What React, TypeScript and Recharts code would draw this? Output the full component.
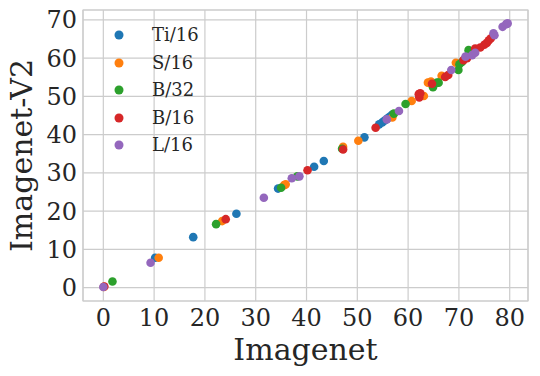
import React from 'react';
import { ScatterChart, Scatter, XAxis, YAxis, CartesianGrid, Legend, ReferenceArea, Label } from 'recharts';

const seriesNames = ['Ti/16', 'S/16', 'B/32', 'B/16', 'L/16'];
const seriesColors = ['#1f77b4', '#ff7f0e', '#2ca02c', '#d62728', '#9467bd'];

const xTicks = [0, 10, 20, 30, 40, 50, 60, 70, 80];
const yTicks = [0, 10, 20, 30, 40, 50, 60, 70];

const tiImagenet = [10.2, 17.7, 26.2, 34.4, 41.5, 43.4, 51.4, 54.3, 54.9, 55.4, 55.9, 56.3, 56.7, 57.0];
const tiV2 = [7.8, 13.2, 19.3, 25.9, 31.6, 33.1, 39.3, 42.7, 43.2, 43.7, 44.2, 44.6, 45.0, 45.3];

const sImagenet = [0.1, 10.9, 23.4, 35.6, 35.9, 47.2, 50.2, 56.9, 60.7, 63.1, 63.9, 64.5, 66.6, 69.4];
const sV2 = [0.2, 7.8, 17.4, 26.8, 27.0, 36.8, 38.4, 44.5, 48.8, 50.1, 53.6, 53.9, 55.4, 58.8];

const b32Imagenet = [1.8, 22.2, 35.0, 38.2, 47.0, 57.2, 59.5, 64.9, 65.7, 66.0, 69.9, 70.1, 70.6, 71.9, 72.2];
const b32V2 = [1.6, 16.6, 26.1, 29.1, 36.3, 45.5, 48.0, 52.4, 53.6, 53.6, 56.9, 58.4, 59.0, 62.1, 61.7];

const b16Imagenet = [0.2, 24.1, 40.2, 47.2, 53.6, 62.1, 62.2, 62.4, 64.7, 67.3, 67.9, 70.9, 71.6, 73.2, 74.2, 75.0, 75.5, 75.9, 76.3];
const b16V2 = [0.3, 17.9, 30.7, 36.1, 41.8, 50.6, 49.7, 50.8, 53.3, 55.1, 55.6, 59.5, 60.0, 62.5, 62.8, 63.5, 64.0, 64.7, 65.2];

const l16Imagenet = [0.0, 9.3, 31.6, 37.1, 38.6, 55.8, 58.2, 68.5, 71.3, 72.6, 73.2, 76.8, 77.0, 78.6, 79.3, 79.6];
const l16V2 = [0.15, 6.5, 23.5, 28.6, 29.1, 44.0, 46.2, 56.9, 60.4, 60.8, 61.4, 66.5, 66.0, 68.2, 68.9, 69.1];

const seriesX = [tiImagenet, sImagenet, b32Imagenet, b16Imagenet, l16Imagenet];
const seriesY = [tiV2, sV2, b32V2, b16V2, l16V2];

const seriesData = seriesX.map((xs, i) => xs.map((x, j) => ({ x, y: seriesY[i][j] })));

const FONT = '"DejaVu Serif", serif';
const TEXT = '#262626';

const XMIN = -4, XMAX = 83.6, YMIN = -3.5, YMAX = 72.6;

const LegendContent = () => (
  <div style={{ position: 'relative', width: 0, height: 0 }}>
    {seriesNames.map((n, i) => (
      <div key={n} style={{ position: 'absolute', left: 0, top: i * 27.6, height: 24, display: 'flex', alignItems: 'center', whiteSpace: 'nowrap' }}>
        <svg width={12} height={12} style={{ display: 'block' }}>
          <circle cx={6} cy={6} r={4.5} fill={seriesColors[i]} />
        </svg>
        <span style={{ marginLeft: 27, fontFamily: FONT, fontSize: 18, color: TEXT, lineHeight: '24px' }}>{n}</span>
      </div>
    ))}
  </div>
);

export default function App() {
  return (
    <div style={{ position: 'absolute', left: 0, top: 0, width: 540, height: 376, background: '#ffffff' }}>
      <ScatterChart width={540} height={376} margin={{ top: 10, right: 12, left: 0, bottom: 0 }}>
        <CartesianGrid stroke="#cccccc" strokeWidth={1.2} />
        <ReferenceArea x1={XMIN} x2={XMAX} y1={YMIN} y2={YMAX} fill="none" stroke="#cccccc" strokeWidth={1.2} ifOverflow="visible" />
        <XAxis
          type="number"
          dataKey="x"
          domain={[XMIN, XMAX]}
          ticks={xTicks}
          allowDataOverflow
          height={75}
          axisLine={false}
          tickLine={false}
          tickSize={0}
          tickMargin={8}
          tick={{ fontFamily: FONT, fontSize: 24, fill: TEXT }}
        >
          <Label
            content={({ viewBox }: any) => (
              <text x={viewBox.x + viewBox.width / 2} y={360} textAnchor="middle" fontFamily={FONT} fontSize={30} fill={TEXT}>
                Imagenet
              </text>
            )}
          />
        </XAxis>
        <YAxis
          type="number"
          dataKey="y"
          domain={[YMIN, YMAX]}
          ticks={yTicks}
          allowDataOverflow
          width={83}
          axisLine={false}
          tickLine={false}
          tickSize={0}
          tickMargin={6}
          tick={{ fontFamily: FONT, fontSize: 24, fill: TEXT }}
        >
          <Label
            content={({ viewBox }: any) => {
              const cy = viewBox.y + viewBox.height / 2;
              return (
                <text x={32} y={cy} transform={`rotate(-90 32 ${cy})`} textAnchor="middle" fontFamily={FONT} fontSize={30} fill={TEXT}>
                  Imagenet-V2
                </text>
              );
            }}
          />
        </YAxis>
        <Legend
          layout="vertical"
          align="left"
          verticalAlign="top"
          wrapperStyle={{ left: 113, top: 23, width: 0, height: 0, overflow: 'visible' }}
          content={<LegendContent />}
        />
        {seriesNames.map((n, i) => (
          <Scatter
            key={n}
            name={n}
            data={seriesData[i]}
            fill={seriesColors[i]}
            isAnimationActive={false}
            shape={(p: any) => <circle cx={p.cx} cy={p.cy} r={4.3} fill={seriesColors[i]} />}
          />
        ))}
      </ScatterChart>
    </div>
  );
}
